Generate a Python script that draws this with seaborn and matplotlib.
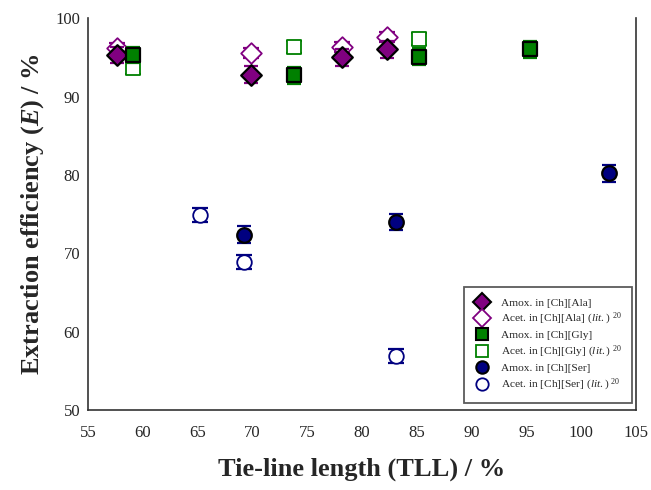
import matplotlib
matplotlib.use("Agg")
import matplotlib.pyplot as plt
import seaborn as sns
import pandas as pd
from matplotlib.lines import Line2D

# Tie-line lengths (TLL, %) and extraction efficiencies (E, %) with std. deviations
ala_amox_tll = [57.7, 69.9, 78.2, 82.3]
ala_amox_e = [95.3, 92.8, 95.0, 96.0]
ala_amox_err = [1.05, 1.05, 1.05, 1.05]

ala_acet_tll = [57.7, 69.9, 78.2, 82.3]
ala_acet_e = [96.2, 95.6, 96.3, 97.6]
ala_acet_err = [0.65, 0.65, 0.65, 0.65]

gly_amox_tll = [59.1, 73.8, 85.2, 95.3]
gly_amox_e = [95.3, 92.7, 95.1, 96.0]
gly_amox_err = [1.05, 1.05, 1.05, 1.05]

gly_acet_tll = [59.1, 73.8, 85.2]
gly_acet_e = [93.6, 96.3, 97.3]
gly_acet_err = [0.75, 0.75, 0.75]

ser_amox_tll = [69.2, 83.1, 102.5]
ser_amox_e = [72.4, 74.0, 80.2]
ser_amox_err = [1.05, 1.05, 1.05]

ser_acet_tll = [65.2, 69.2, 83.1]
ser_acet_e = [74.9, 68.9, 56.9]
ser_acet_err = [0.9, 0.85, 0.85]

series_labels = [
    "Amox. in [Ch][Ala]",
    "Acet. in [Ch][Ala] $\\mathit{(lit.)}$ $^{20}$",
    "Amox. in [Ch][Gly]",
    "Acet. in [Ch][Gly] $\\mathit{(lit.)}$ $^{20}$",
    "Amox. in [Ch][Ser]",
    "Acet. in [Ch][Ser] $\\mathit{(lit.)}$ $^{20}$",
]

x_ticks = [55, 60, 65, 70, 75, 80, 85, 90, 95, 100, 105]
y_ticks = [50, 60, 70, 80, 90, 100]

sns.set_theme(style="white")
plt.rcParams["font.family"] = ["Liberation Serif", "DejaVu Serif"]
plt.rcParams["mathtext.fontset"] = "custom"
plt.rcParams["mathtext.rm"] = "Liberation Serif"
plt.rcParams["mathtext.it"] = "Liberation Serif:italic"
plt.rcParams["mathtext.bf"] = "Liberation Serif:bold"
plt.rcParams["mathtext.bfit"] = "Liberation Serif:italic:bold"

PURPLE = "#800080"
GREEN = "#008000"
NAVY = "#000080"

series = [
    (ala_amox_tll, ala_amox_e, ala_amox_err, "D", PURPLE, True, 10.5),
    (ala_acet_tll, ala_acet_e, ala_acet_err, "D", PURPLE, False, 10.5),
    (gly_amox_tll, gly_amox_e, gly_amox_err, "s", GREEN, True, 9.5),
    (gly_acet_tll, gly_acet_e, gly_acet_err, "s", GREEN, False, 9.5),
    (ser_amox_tll, ser_amox_e, ser_amox_err, "o", NAVY, True, 10.5),
    (ser_acet_tll, ser_acet_e, ser_acet_err, "o", NAVY, False, 10.5),
]

fig = plt.figure(figsize=(6.51, 4.90), dpi=100)
ax = fig.add_axes([0.135, 0.163, 0.842, 0.800])

# open (literature) series first so the filled ones sit on top;
# each series' error bars sit just beneath its own markers
order = [1, 3, 5, 0, 2, 4]
for rank, idx in enumerate(order):
    xs, ys, errs, mk, col, filled, ms = series[idx]
    df = pd.DataFrame({"TLL": xs, "E": ys})
    ax.errorbar(xs, ys, yerr=errs, fmt="none", ecolor=col, elinewidth=1.0,
                capsize=5 if filled else 6, capthick=1.6, zorder=3 + 2 * rank)
    sns.scatterplot(
        data=df, x="TLL", y="E", ax=ax, marker=mk,
        s=ms ** 2,
        color=col if filled else "white",
        edgecolor="black" if filled else col,
        linewidth=1.6 if filled else 1.3,
        zorder=4 + 2 * rank, legend=False,
    )

handles = []
for i, (xs, ys, errs, mk, col, filled, ms) in enumerate(series):
    handles.append(Line2D([], [], linestyle="none", marker=mk,
                          markersize=ms * 0.85,
                          markerfacecolor=col if filled else "white",
                          markeredgecolor="black" if filled else col,
                          markeredgewidth=1.5 if filled else 1.3,
                          label=series_labels[i]))

ax.set_xlim(55, 105)
ax.set_ylim(50, 100)
ax.set_xticks(x_ticks)
ax.set_yticks(y_ticks)
ax.set_xticklabels([str(t) for t in x_ticks], fontsize=12)
ax.set_yticklabels([str(t) for t in y_ticks], fontsize=12)
ax.tick_params(axis="x", direction="in", length=5, width=1, color="#333333", pad=11)
ax.tick_params(axis="y", direction="out", length=4, width=1, color="#333333", pad=1.5)

for side in ["left", "bottom", "right"]:
    ax.spines[side].set_color("#333333")
    ax.spines[side].set_linewidth(1.2)
ax.spines["top"].set_visible(False)

ax.set_xlabel("Tie-line length (TLL) / %", fontsize=19, fontweight="bold", labelpad=12)
ax.set_ylabel("Extraction efficiency ($\\mathbfit{E}$) / %", fontsize=19,
              fontweight="bold", labelpad=7)

leg = ax.legend(handles=handles, loc="lower right", bbox_to_anchor=(0.997, 0.012),
                fontsize=8.2, frameon=True, fancybox=False, handletextpad=0.9,
                labelspacing=0.3, borderpad=0.9, handlelength=1.4,
                borderaxespad=0.2)
leg.get_frame().set_edgecolor("#333333")
leg.get_frame().set_linewidth(1.3)

fig.savefig("out.png", dpi=100)
